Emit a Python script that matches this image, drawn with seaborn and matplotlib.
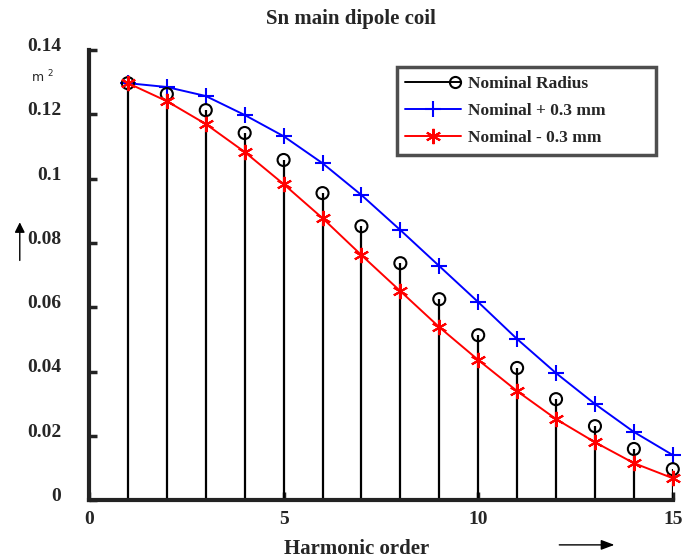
import matplotlib
matplotlib.use("Agg")
import matplotlib.pyplot as plt
import matplotlib.transforms as mtransforms
import seaborn as sns
import pandas as pd
from matplotlib.lines import Line2D
from matplotlib.legend_handler import HandlerLine2DCompound
from matplotlib.patches import FancyArrowPatch

harmonic = list(range(1, 16))
nominal = [0.1297, 0.1263, 0.1213, 0.1142, 0.1058, 0.0955, 0.0852, 0.0737,
           0.0625, 0.0513, 0.0411, 0.0314, 0.0230, 0.0159, 0.0096]
plus_03 = [0.1297, 0.1285, 0.1257, 0.1198, 0.1132, 0.1048, 0.0949, 0.0840,
           0.0728, 0.0616, 0.0501, 0.0395, 0.0299, 0.0212, 0.0140]
minus_03 = [0.1297, 0.1241, 0.1170, 0.1083, 0.0983, 0.0877, 0.0762, 0.0650,
            0.0538, 0.0436, 0.0339, 0.0252, 0.0180, 0.0115, 0.0068]
labels = ["Nominal Radius", "Nominal + 0.3 mm", "Nominal - 0.3 mm"]
xticks = [0, 5, 10, 15]
yticks = [0, 0.02, 0.04, 0.06, 0.08, 0.1, 0.12, 0.14]
ytick_labels = ["0", "0.02", "0.04", "0.06", "0.08", "0.1", "0.12", "0.14"]

df = pd.DataFrame({"n": harmonic, "nom": nominal, "plus": plus_03, "minus": minus_03})

sns.set_style("white")
plt.rcParams["font.family"] = ["Liberation Serif", "DejaVu Serif"]

fig = plt.figure(figsize=(6.82, 5.6), dpi=100)
ax = fig.add_axes([0.1305, 0.107, 0.856, 0.8036])

# stems for the nominal radius
ax.vlines(df["n"], 0, df["nom"], color="black", lw=1.6, zorder=2)
sns.scatterplot(data=df, x="n", y="nom", ax=ax, marker="o", s=75,
                facecolor="none", edgecolor="black", linewidth=1.5, zorder=4,
                clip_on=False, legend=False)
sns.lineplot(data=df, x="n", y="plus", ax=ax, color="blue", lw=1.4,
             marker="+", markersize=11, markeredgewidth=1.5,
             markeredgecolor="blue", zorder=3, clip_on=False)
sns.lineplot(data=df, x="n", y="minus", ax=ax, color="red", lw=1.4,
             marker=(6, 2, 0), markersize=11, markeredgewidth=1.5,
             markeredgecolor="red", zorder=5, clip_on=False)

ax.set_xlim(0, 15)
ax.set_ylim(0, 0.14)
ax.set_xticks(xticks)
ax.set_xticklabels([str(t) for t in xticks], fontsize=14, fontweight="bold")
ax.set_yticks(yticks)
ax.set_yticklabels(ytick_labels, fontsize=14, fontweight="bold")
ax.tick_params(axis="both", direction="in", length=6, width=2.5, color="#222222",
               left=True, bottom=True)
ax.tick_params(axis="y", pad=20)
ax.tick_params(axis="x", pad=8)
# y tick labels sit slightly above their ticks
lift = mtransforms.ScaledTranslation(0, 4 / 72, fig.dpi_scale_trans)
for lbl in ax.get_yticklabels():
    lbl.set_transform(lbl.get_transform() + lift)
for side in ["top", "right"]:
    ax.spines[side].set_visible(False)
for side in ["left", "bottom"]:
    ax.spines[side].set_linewidth(3)
    ax.spines[side].set_color("#222222")
ax.set_xlabel("")
ax.set_ylabel("")

fig.text(0.515, 0.966, "Sn main dipole coil", ha="center", va="center",
         fontsize=15, fontweight="bold")
fig.text(0.523, 0.02, "Harmonic order", ha="center", va="center",
         fontsize=15, fontweight="bold")
fig.text(0.062, 0.862, "m $^2$", ha="center", va="center", fontsize=9,
         family="DejaVu Sans")

# direction arrows beside the axes
fig.add_artist(FancyArrowPatch(
    (0.029, 0.53), (0.029, 0.608), transform=fig.transFigure,
    arrowstyle="-|>,head_length=6,head_width=3", color="black", lw=1))
fig.add_artist(FancyArrowPatch(
    (0.816, 0.027), (0.905, 0.027), transform=fig.transFigure,
    arrowstyle="-|>,head_length=8,head_width=3", color="black", lw=1))


class EndMarkerHandler(HandlerLine2DCompound):
    """Legend entry with the marker drawn at the right end of the line."""

    def get_xdata(self, legend, xdescent, ydescent, width, height, fontsize):
        xdata = [-xdescent, -xdescent + width]
        return xdata, [-xdescent + width - 4]


handles = [
    Line2D([], [], color="black", lw=1.4, marker="o", markerfacecolor="none",
           markersize=8, markeredgewidth=1.5),
    Line2D([], [], color="blue", lw=1.4, marker="+", markersize=11,
           markeredgewidth=1.5),
    Line2D([], [], color="red", lw=1.4, marker=(6, 2, 0), markersize=11,
           markeredgewidth=1.5),
]
leg = ax.legend(handles, labels, loc="upper left",
                bbox_to_anchor=(0.527, 0.962, 0.444, 0.0), mode="expand",
                borderaxespad=0, frameon=True, fancybox=False,
                prop={"weight": "bold", "size": 12.5}, handlelength=3.2,
                handletextpad=0.4, borderpad=0.5, labelspacing=0.62,
                handler_map={handles[0]: EndMarkerHandler()})
leg.get_frame().set_edgecolor("#222222")
leg.get_frame().set_linewidth(2.5)

fig.savefig("out.png", dpi=100)
